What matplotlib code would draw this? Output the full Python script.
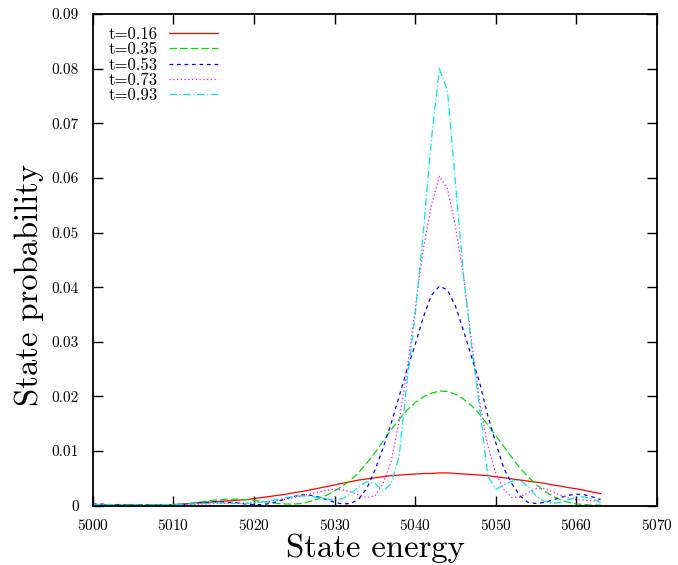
import matplotlib
matplotlib.use("Agg")
import matplotlib.pyplot as plt
import numpy as np

plt.rcParams['font.family'] = ['cmr10', 'Liberation Serif', 'DejaVu Serif']
plt.rcParams['axes.formatter.use_mathtext'] = True

# state energies (one point per integer level)
energy = np.arange(5000, 5064)

labels = ["t=0.16", "t=0.35", "t=0.53", "t=0.73", "t=0.93"]

p_016 = [0.0000, 0.0000, 0.0000, 0.0000, 0.0000, 0.0000, 0.0000, 0.0000, 0.0001, 0.0001,
         0.0002, 0.0003, 0.0004, 0.0005, 0.0006, 0.0007, 0.0008, 0.0009, 0.0010, 0.0011,
         0.0013, 0.0015, 0.0017, 0.0019, 0.0021, 0.0024, 0.0026, 0.0029, 0.0032, 0.0035,
         0.0038, 0.0041, 0.0044, 0.0047, 0.0049, 0.0051, 0.0053, 0.0055, 0.0056, 0.0057,
         0.0058, 0.0059, 0.0059, 0.0060, 0.0060, 0.0059, 0.0058, 0.0057, 0.0056, 0.0055,
         0.0053, 0.0051, 0.0049, 0.0047, 0.0045, 0.0043, 0.0041, 0.0038, 0.0036, 0.0033,
         0.0031, 0.0028, 0.0025, 0.0022]

p_035 = [0.0002, 0.0002, 0.0002, 0.0002, 0.0002, 0.0002, 0.0002, 0.0002, 0.0002, 0.0002,
         0.0002, 0.0003, 0.0004, 0.0006, 0.0008, 0.0010, 0.0011, 0.0012, 0.0012, 0.0011,
         0.0010, 0.0008, 0.0006, 0.0004, 0.0003, 0.0003, 0.0004, 0.0008, 0.0013, 0.0019,
         0.0027, 0.0036, 0.0047, 0.0061, 0.0078, 0.0097, 0.0118, 0.0139, 0.0158, 0.0175,
         0.0189, 0.0199, 0.0206, 0.0210, 0.0209, 0.0204, 0.0195, 0.0183, 0.0167, 0.0148,
         0.0128, 0.0108, 0.0088, 0.0069, 0.0053, 0.0039, 0.0027, 0.0018, 0.0011, 0.0006,
         0.0003, 0.0002, 0.0001, 0.0001]

p_053 = [0.0003, 0.0003, 0.0002, 0.0002, 0.0002, 0.0001, 0.0001, 0.0001, 0.0001, 0.0001,
         0.0001, 0.0002, 0.0003, 0.0005, 0.0006, 0.0007, 0.0007, 0.0006, 0.0005, 0.0003,
         0.0002, 0.0002, 0.0004, 0.0008, 0.0013, 0.0017, 0.0020, 0.0019, 0.0016, 0.0011,
         0.0006, 0.0003, 0.0004, 0.0012, 0.0032, 0.0065, 0.0105, 0.0150, 0.0200, 0.0250,
         0.0295, 0.0345, 0.0385, 0.0402, 0.0395, 0.0365, 0.0320, 0.0272, 0.0225, 0.0165,
         0.0115, 0.0068, 0.0040, 0.0018, 0.0006, 0.0004, 0.0006, 0.0010, 0.0015, 0.0019,
         0.0021, 0.0020, 0.0016, 0.0011]

p_073 = [0.0002, 0.0002, 0.0001, 0.0001, 0.0001, 0.0001, 0.0001, 0.0001, 0.0001, 0.0001,
         0.0001, 0.0002, 0.0002, 0.0003, 0.0003, 0.0004, 0.0004, 0.0005, 0.0005, 0.0005,
         0.0006, 0.0007, 0.0008, 0.0010, 0.0012, 0.0015, 0.0018, 0.0022, 0.0025, 0.0028,
         0.0030, 0.0029, 0.0025, 0.0020, 0.0015, 0.0018, 0.0040, 0.0080, 0.0155, 0.0250,
         0.0360, 0.0470, 0.0550, 0.0603, 0.0580, 0.0510, 0.0420, 0.0300, 0.0190, 0.0110,
         0.0058, 0.0030, 0.0015, 0.0016, 0.0024, 0.0031, 0.0031, 0.0026, 0.0019, 0.0014,
         0.0011, 0.0010, 0.0009, 0.0008]

p_093 = [0.0002, 0.0002, 0.0002, 0.0001, 0.0001, 0.0001, 0.0001, 0.0001, 0.0002, 0.0002,
         0.0002, 0.0002, 0.0003, 0.0004, 0.0004, 0.0005, 0.0005, 0.0004, 0.0004, 0.0004,
         0.0005, 0.0007, 0.0009, 0.0012, 0.0015, 0.0017, 0.0018, 0.0017, 0.0015, 0.0012,
         0.0010, 0.0013, 0.0022, 0.0035, 0.0044, 0.0041, 0.0027, 0.0040, 0.0090, 0.0230,
         0.0350, 0.0500, 0.0670, 0.0800, 0.0760, 0.0590, 0.0420, 0.0290, 0.0178, 0.0055,
         0.0030, 0.0038, 0.0045, 0.0046, 0.0035, 0.0018, 0.0008, 0.0004, 0.0006, 0.0011,
         0.0015, 0.0016, 0.0012, 0.0006]

series = [p_016, p_035, p_053, p_073, p_093]
colors = ["#ff0000", "#00dd00", "#0000ff", "#ff00ff", "#00e8e8"]
dashes = ["-", (0, (6, 2.5)), (0, (3, 3)), (0, (1, 2)), (0, (6, 2, 1, 2))]

fig = plt.figure(figsize=(6.78, 5.65), dpi=100)
ax = fig.add_axes([0.137, 0.105, 0.832, 0.87])

for vals, lab, col, ls in zip(series, labels, colors, dashes):
    ax.plot(energy, vals, color=col, linestyle=ls, linewidth=0.9, label=lab)

ax.set_xlim(5000, 5070)
ax.set_ylim(0, 0.09)
ax.set_xticks(np.arange(5000, 5071, 10))
ax.set_yticks(np.arange(0, 0.0901, 0.01))
ax.set_yticklabels(["0"] + ["%.2f" % v for v in np.arange(0.01, 0.0901, 0.01)])

ax.tick_params(direction="in", length=7, width=1, top=True, right=True,
               labelsize=11)
ax.tick_params(axis="x", pad=9)
ax.tick_params(axis="y", pad=10)
for sp in ax.spines.values():
    sp.set_linewidth(1.3)

ax.set_xlabel("State energy", fontsize=23.5, labelpad=0)
ax.set_ylabel("State probability", fontsize=23.5)
ax.yaxis.set_label_coords(-0.087, 0.449)

ax.legend(loc="upper left", frameon=False, markerfirst=False, fontsize=12,
          handlelength=2.9, handletextpad=0.7, labelspacing=0.0,
          borderaxespad=0.2, bbox_to_anchor=(0.01, 0.995))

fig.savefig("out.png", dpi=100)
